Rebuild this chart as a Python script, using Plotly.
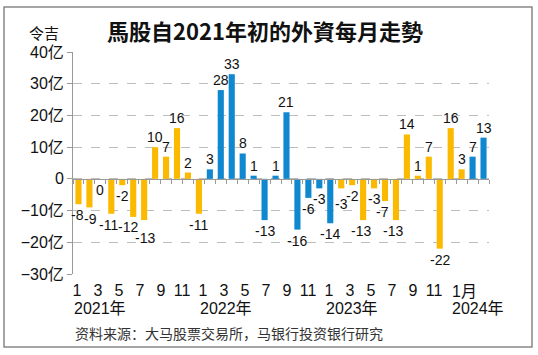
import numpy as np
import plotly.graph_objects as go

# ---------------- data ----------------
values = [-8, -9, 0, -11, -2, -12, -13, 10, 7, 16, 2, -11,
          3, 28, 33, 8, 1, -13, 1, 21, -16, -6, -3, -14,
          -3, -2, -13, -3, -7, -13, 14, 1, 7, -22, 16, 3,
          7, 13]
years = [2021] * 12 + [2022] * 12 + [2023] * 12 + [2024] * 2
month_ticks = ["1", "3", "5", "7", "9", "11",
               "1", "3", "5", "7", "9", "11",
               "1", "3", "5", "7", "9", "11"]
last_month_label = "1月"
year_labels = ["2021年", "2022年", "2023年", "2024年"]
y_tickvals = [-30, -20, -10, 0, 10, 20, 30, 40]
y_ticktext = ["−30亿", "−20亿", "−10亿", "0", "10亿", "20亿", "30亿", "40亿"]

title = "馬股自2021年初的外資每月走勢"
unit = "令吉"
source = "资料来源：大马股票交易所，马银行投资银行研究"

# ---------------- style ----------------
YELLOW = "#FBBA00"
BLUE = "#1088D0"
colors = [YELLOW if y % 2 == 1 else BLUE for y in years]

# small hand nudges (x px, y px) for crowded value labels, as in the original
label_nudge = {0: (-1, 0), 1: (1, -1), 3: (-3, 0), 5: (-5, 1), 6: (1, -7),
               24: (0, -5), 26: (-2, 0), 28: (-3, 0), 29: (-3, 0)}

W, H = 538, 355
L, R, T, B = 73, 49, 52, 81
pw, ph = W - L - R, H - T - B


def px_x(p):
    return (p - L) / pw


def px_y(p):
    return (H - B - p) / ph


idx = list(range(len(values)))
NUM_FONT = "Liberation Sans, Arial, sans-serif"
TXT_FONT = "Liberation Sans, Arial, Noto Sans CJK SC, sans-serif"

fig = go.Figure()
fig.add_trace(go.Bar(x=idx, y=values, marker_color=colors, marker_line_width=0,
                     width=0.56, showlegend=False, hoverinfo="skip"))
tick_months = list(range(0, 2 * len(month_ticks), 2))
fig.add_trace(go.Scatter(x=tick_months, y=[None] * len(tick_months), xaxis="x2",
                         mode="markers", showlegend=False, hoverinfo="skip"))

ann = []
for i, v in zip(idx, values):
    dx, dy = label_nudge.get(i, (0, 0))
    ann.append(dict(x=i, y=v, xref="x", yref="y", text=str(v), showarrow=False,
                    yanchor="bottom" if v > 0 else "top",
                    xshift=dx, yshift=(0 if v > 0 else -1) + dy,
                    font=dict(family=NUM_FONT, size=14, color="#111")))
# last month label ("1月") starts at its month like the year labels
ann.append(dict(x=36, y=0, xref="x2", yref="paper", text=last_month_label,
                showarrow=False, xanchor="left", yanchor="top", xshift=-5, yshift=-7,
                font=dict(family=TXT_FONT, size=16, color="#111")))
for k, yl in enumerate(year_labels):
    ann.append(dict(x=k * 12, y=px_y(308), xref="x2", yref="paper", text=yl,
                    showarrow=False, xanchor="left", yanchor="middle", xshift=-5,
                    font=dict(family=TXT_FONT, size=16, color="#111")))
ann.append(dict(x=px_x(44), y=px_y(32), xref="paper", yref="paper", text=unit,
                showarrow=False, xanchor="center", yanchor="middle",
                font=dict(family="Noto Sans CJK SC", size=15, color="#111")))
ann.append(dict(x=0, y=px_y(333), xref="paper", yref="paper", text=source,
                showarrow=False, xanchor="left", yanchor="middle",
                font=dict(family="Noto Sans CJK SC", size=14, color="#333")))

fig.update_layout(
    width=W, height=H, autosize=False,
    margin=dict(l=L, r=R, t=T, b=B, pad=0),
    paper_bgcolor="white", plot_bgcolor="white",
    title=dict(text="<b>" + title + "</b>", x=265 / W, xanchor="center",
               y=1 - 32 / H, yanchor="middle", xref="container", yref="container",
               font=dict(family="Noto Sans CJK TC", size=22, color="#111")),
    xaxis=dict(range=[-0.5, 37.5], anchor="free", position=30 / 70,
               showline=True, linecolor="#999", linewidth=1,
               ticks="outside", tickvals=list(np.arange(-0.5, 38, 1)),
               ticklen=4, tickcolor="#999", tickwidth=1,
               showticklabels=False, showgrid=False, zeroline=False, fixedrange=True),
    xaxis2=dict(overlaying="x", anchor="y", side="bottom",
                range=[-4 / 10.5, -4 / 10.5 + pw / 10.5],
                tickvals=tick_months, ticktext=month_ticks, ticks="",
                tickangle=0, ticklabelstandoff=5,
                showline=False, showgrid=False, zeroline=False,
                tickfont=dict(family=TXT_FONT, size=16, color="#111")),
    yaxis=dict(range=[-30, 40], tickvals=y_tickvals, ticktext=y_ticktext,
               showgrid=True, gridcolor="#BDBDBD", griddash="dash", gridwidth=1,
               showline=True, linecolor="#999", linewidth=1,
               ticks="outside", ticklen=5, tickcolor="#999",
               zeroline=False,
               tickfont=dict(family="Liberation Sans, Arial, Noto Sans CJK SC", size=16, color="#111")),
    annotations=ann,
    shapes=[dict(type="rect", xref="paper", yref="paper",
                 x0=px_x(4), x1=px_x(532), y0=px_y(347), y1=px_y(7),
                 line=dict(color="#888", width=1.5), layer="below")],
)

fig.write_html("out.html", config={"displayModeBar": False},
               post_script="document.body.style.margin='0';")
